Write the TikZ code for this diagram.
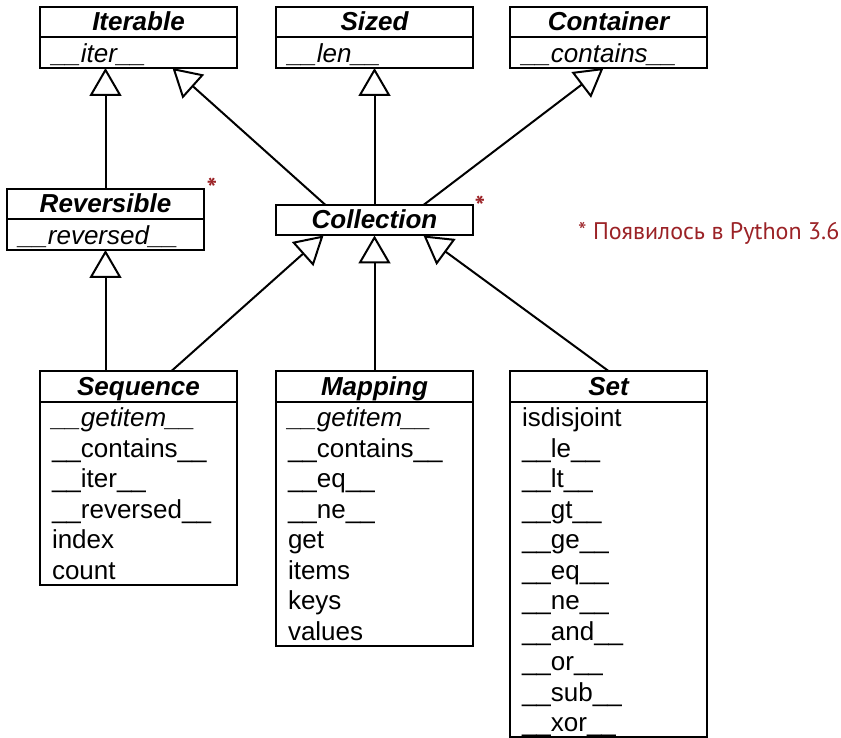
\documentclass[tikz,border=0pt]{standalone}
\usepackage{fontspec}
\setmainfont{Liberation Sans}
\newfontfamily\notefont{PT Sans}
\usetikzlibrary{arrows.meta,positioning}
\definecolor{notered}{RGB}{155,34,38}
% one row of a compartment is exactly one \baselineskip high,
% the rows sit a little lower than the strut would put them
\newcommand\members[1]{\raisebox{-4pt}[\height][\depth]{%
    \begin{tabular}{@{}p{173pt}@{}}#1\end{tabular}}}
\tikzset{
    uml diagram/.style = {x=1pt, y=-1pt},
    head/.style        = {draw, line width=2pt, outer sep=0pt, fill=white,
                          minimum width=197pt, inner sep=0pt,
                          text height=24pt, text depth=6.5pt,
                          font=\fontsize{26}{30.5}\selectfont\bfseries\itshape},
    body/.style        = {draw, line width=2pt, outer sep=0pt, fill=white,
                          inner xsep=12pt, inner ysep=0pt,
                          font=\fontsize{26}{30.5}\selectfont},
    gen/.style         = {line width=2pt,
                          -{Triangle[open, length=28pt, width=32pt]}},
    newmark/.style     = {text=notered, inner sep=0pt, anchor=base,
                          font=\notefont\fontsize{28}{30}\selectfont\bfseries},
    note/.style        = {text=notered, inner sep=0pt,
                          font=\notefont\fontsize{24}{28}\selectfont}
}

\begin{document}
\begin{tikzpicture}[uml diagram]
\useasboundingbox (0,0) rectangle (841,738);

% ================= Top level ABCs =================
\node[head, anchor=north west] (iterable) at (40, 7) {Iterable};
\node[body, below=0pt of iterable] (iterableops) {\members{\itshape\_\_iter\_\_}};

\node[head, anchor=north west] (sized) at (276, 7) {Sized};
\node[body, below=0pt of sized] (sizedops) {\members{\itshape\_\_len\_\_}};

\node[head, anchor=north west] (container) at (510, 7) {Container};
\node[body, below=0pt of container] (containerops) {\members{\itshape\_\_contains\_\_}};

% ================= Middle level =================
\node[head, anchor=north west] (reversible) at (7, 189) {Reversible};
\node[body, below=0pt of reversible] (reversibleops) {\members{\itshape\_\_reversed\_\_}};

\node[head, anchor=north west] (collection) at (276, 205) {Collection};

\node[newmark] (reversiblenew) at ([xshift=8pt, yshift=-10pt]reversible.north east) {*};
\node[newmark] (collectionnew) at ([xshift=7pt, yshift=-12pt]collection.north east) {*};
\node[note, anchor=base west] (newnote) at (578, 240) {* Появилось в Python 3.6};

% ================= Concrete level ABCs =================
\node[head, anchor=north west] (sequence) at (40, 371) {Sequence};
\node[body, below=0pt of sequence] (sequenceops) {\members{
    \itshape\_\_getitem\_\_\\
    \_\_contains\_\_\\
    \_\_iter\_\_\\
    \_\_reversed\_\_\\
    index\\
    count}};

\node[head, anchor=north west] (mapping) at (276, 371) {Mapping};
\node[body, below=0pt of mapping] (mappingops) {\members{
    \itshape\_\_getitem\_\_\\
    \_\_contains\_\_\\
    \_\_eq\_\_\\
    \_\_ne\_\_\\
    get\\
    items\\
    keys\\
    values}};

\node[head, anchor=north west] (set) at (510, 371) {Set};
\node[body, below=0pt of set] (setops) {\members{
    isdisjoint\\
    \_\_le\_\_\\
    \_\_lt\_\_\\
    \_\_gt\_\_\\
    \_\_ge\_\_\\
    \_\_eq\_\_\\
    \_\_ne\_\_\\
    \_\_and\_\_\\
    \_\_or\_\_\\
    \_\_sub\_\_\\
    \_\_xor\_\_}};

% ================= Inheritance =================
\draw[gen] (reversible.north) -- (reversible.north |- iterableops.south);
\draw[gen] ([xshift=-49pt]collection.north) -- ([xshift=34pt]iterableops.south);
\draw[gen] (collection.north) -- (sizedops.south);
\draw[gen] ([xshift=49pt]collection.north) -- ([xshift=-5pt]containerops.south);

\draw[gen] (sequence.north -| reversibleops.south) -- (reversibleops.south);
\draw[gen] ([xshift=33pt]sequence.north) -- ([xshift=-51pt]collection.south);
\draw[gen] (mapping.north) -- (collection.south);
\draw[gen] (set.north) -- ([xshift=49pt]collection.south);

\end{tikzpicture}
\end{document}
